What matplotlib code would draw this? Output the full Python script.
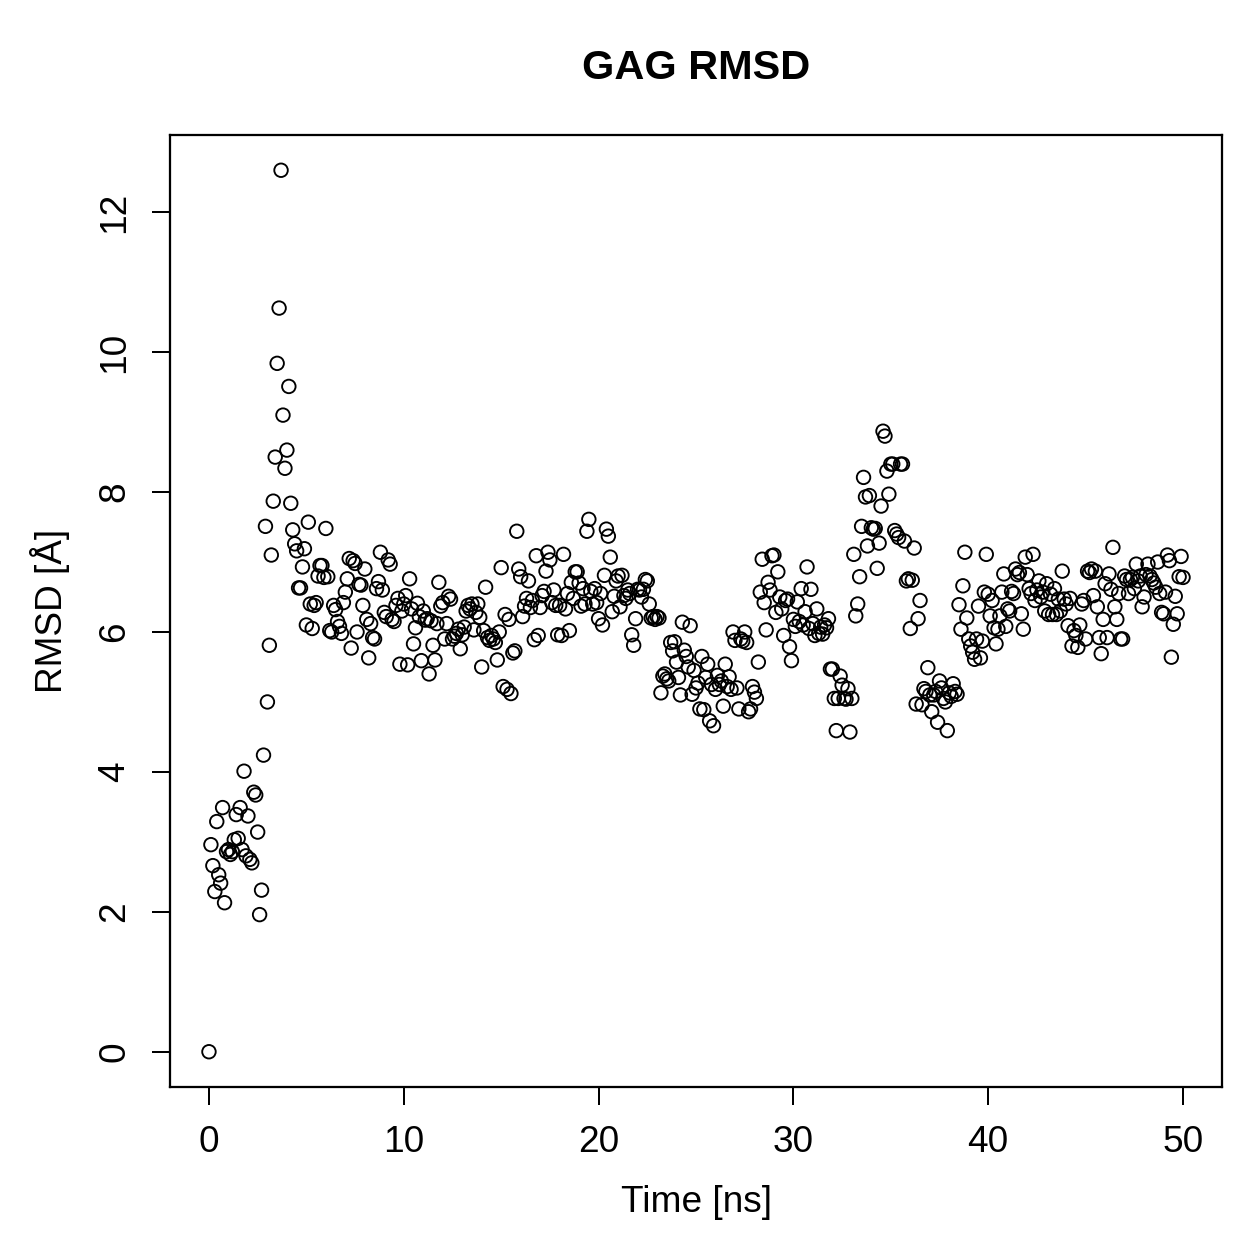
import numpy as np
import matplotlib
matplotlib.use("Agg")
import matplotlib.pyplot as plt

# RMSD values, one per 0.1 ns, in 5 ns blocks
rmsd_00_05 = [0.00, 2.96, 2.66, 2.29, 3.29, 2.53, 2.41, 3.49, 2.13, 2.86,
              2.89, 2.82, 2.86, 3.03, 3.39, 3.05, 3.49, 2.89, 4.01, 2.80,
              3.37, 2.75, 2.70, 3.71, 3.67, 3.14, 1.96, 2.31, 4.24, 7.51,
              5.00, 5.81, 7.10, 7.87, 8.50, 9.84, 10.63, 12.60, 9.10, 8.34,
              8.60, 9.51, 7.84, 7.46, 7.26, 7.16, 6.63, 6.63, 6.93, 7.19]
rmsd_05_10 = [6.10, 7.57, 6.40, 6.05, 6.38, 6.42, 6.80, 6.95, 6.95, 6.78,
              7.48, 6.79, 6.02, 6.00, 6.38, 6.32, 6.15, 6.08, 5.98, 6.42,
              6.57, 6.76, 7.05, 5.77, 7.02, 6.98, 6.00, 6.68, 6.67, 6.38,
              6.90, 6.18, 5.63, 6.12, 5.92, 5.90, 6.62, 6.72, 7.14, 6.60,
              6.28, 6.22, 7.03, 6.97, 6.18, 6.15, 6.38, 6.48, 5.54, 6.30]
rmsd_10_15 = [6.40, 6.52, 5.53, 6.76, 6.33, 5.83, 6.06, 6.41, 6.22, 5.59,
              6.30, 6.17, 6.19, 5.40, 6.16, 5.81, 5.60, 6.12, 6.71, 6.37,
              6.42, 5.90, 6.12, 6.51, 6.47, 5.90, 5.94, 5.98, 6.04, 5.76,
              5.96, 6.07, 6.30, 6.38, 6.33, 6.40, 6.03, 6.28, 6.40, 6.21,
              5.50, 6.02, 6.64, 5.92, 5.88, 5.95, 5.90, 5.85, 5.60, 6.00]
rmsd_15_20 = [6.92, 5.22, 6.25, 5.18, 6.18, 5.12, 5.70, 5.73, 7.44, 6.90,
              6.79, 6.22, 6.37, 6.48, 6.73, 6.35, 6.45, 5.89, 7.09, 5.95,
              6.35, 6.52, 6.58, 6.87, 7.14, 7.03, 6.42, 6.60, 6.38, 5.96,
              6.38, 5.95, 7.11, 6.33, 6.55, 6.02, 6.71, 6.48, 6.86, 6.86,
              6.70, 6.37, 6.62, 6.40, 7.44, 7.61, 6.58, 6.40, 6.62, 6.42]
rmsd_20_25 = [6.19, 6.55, 6.10, 6.81, 7.47, 7.37, 7.07, 6.29, 6.51, 6.73,
              6.80, 6.36, 6.81, 6.52, 6.48, 6.60, 6.55, 5.96, 5.81, 6.19,
              6.61, 6.60, 6.50, 6.61, 6.75, 6.73, 6.40, 6.20, 6.22, 6.18,
              6.22, 6.20, 5.13, 5.37, 5.40, 5.33, 5.30, 5.85, 5.73, 5.86,
              5.57, 5.35, 5.10, 6.14, 5.74, 5.65, 5.50, 6.09, 5.11, 5.45]
rmsd_25_30 = [5.20, 5.27, 4.90, 5.65, 4.89, 5.35, 5.54, 4.73, 5.25, 4.66,
              5.18, 5.38, 5.25, 5.30, 4.94, 5.54, 5.22, 5.36, 5.18, 6.00,
              5.88, 5.20, 4.90, 5.90, 5.87, 6.00, 5.85, 4.86, 4.90, 5.22,
              5.14, 5.05, 5.57, 6.57, 7.04, 6.42, 6.03, 6.71, 6.60, 7.09,
              7.10, 6.28, 6.86, 6.50, 6.33, 5.95, 6.45, 6.47, 5.79, 5.59]
rmsd_30_35 = [6.18, 6.08, 6.43, 6.15, 6.62, 6.10, 6.29, 6.93, 6.05, 6.61,
              6.12, 5.95, 6.33, 5.98, 6.07, 5.97, 6.10, 6.06, 6.19, 5.47,
              5.47, 5.05, 4.59, 5.05, 5.37, 5.24, 5.05, 5.04, 5.19, 4.57,
              5.05, 7.11, 6.23, 6.40, 6.79, 7.51, 8.21, 7.93, 7.23, 7.95,
              7.49, 7.47, 7.48, 6.91, 7.27, 7.80, 8.87, 8.80, 8.30, 7.97]
rmsd_35_40 = [8.40, 8.40, 7.45, 7.40, 7.35, 8.40, 8.40, 7.30, 6.73, 6.76,
              6.05, 6.74, 7.20, 4.97, 6.19, 6.45, 4.96, 5.19, 5.15, 5.49,
              5.10, 4.86, 5.10, 5.15, 4.71, 5.30, 5.20, 5.05, 5.00, 4.59,
              5.13, 5.08, 5.26, 5.15, 5.11, 6.39, 6.04, 6.66, 7.14, 6.20,
              5.90, 5.80, 5.71, 5.61, 5.90, 6.37, 5.63, 5.87, 6.57, 7.11]
rmsd_40_45 = [6.54, 6.23, 6.45, 6.06, 5.83, 6.04, 6.23, 6.57, 6.83, 6.08,
              6.33, 6.30, 6.58, 6.55, 6.90, 6.82, 6.85, 6.26, 6.04, 7.07,
              6.82, 6.62, 6.55, 7.11, 6.45, 6.60, 6.73, 6.50, 6.57, 6.30,
              6.69, 6.25, 6.54, 6.25, 6.62, 6.25, 6.47, 6.30, 6.87, 6.47,
              6.40, 6.09, 6.48, 5.80, 6.02, 5.95, 5.78, 6.10, 6.40, 6.45]
rmsd_45_50 = [5.90, 6.87, 6.85, 6.90, 6.52, 6.87, 6.36, 5.92, 5.69, 6.18,
              6.69, 5.92, 6.83, 6.61, 7.21, 6.36, 6.18, 6.55, 5.90, 5.90,
              6.80, 6.75, 6.55, 6.75, 6.78, 6.62, 6.97, 6.73, 6.80, 6.36,
              6.50, 6.82, 6.97, 6.80, 6.75, 6.70, 6.64, 7.00, 6.55, 6.28,
              6.26, 6.57, 7.10, 7.02, 5.64, 6.11, 6.51, 6.26, 6.79, 7.08,
              6.78]

blocks = [rmsd_00_05, rmsd_05_10, rmsd_10_15, rmsd_15_20, rmsd_20_25,
          rmsd_25_30, rmsd_30_35, rmsd_35_40, rmsd_40_45, rmsd_45_50]
block_start = [0, 5, 10, 15, 20, 25, 30, 35, 40, 45]
step = 0.1

time = []
rmsd = []
for start, vals in zip(block_start, blocks):
    for i, v in enumerate(vals):
        time.append(start + i * step)
        rmsd.append(v)

x_ticks = [0, 10, 20, 30, 40, 50]
y_ticks = [0, 2, 4, 6, 8, 10, 12]

plt.rcParams['font.family'] = ['Liberation Sans', 'DejaVu Sans']

W = 1259
fig = plt.figure(figsize=(W / 180, W / 180), dpi=180)
ax = fig.add_axes([170 / W, 1 - 1087 / W, (1222 - 170) / W, (1087 - 135) / W])

ax.scatter(time, rmsd, s=5.4 ** 2, facecolors='none', edgecolors='black',
           linewidths=0.75)

xmin, xmax = min(time), max(time)
ymin, ymax = min(rmsd), max(rmsd)
dx = (xmax - xmin) * 0.04
dy = (ymax - ymin) * 0.04
ax.set_xlim(xmin - dx, xmax + dx)
ax.set_ylim(ymin - dy, ymax + dy)

ax.set_xticks(x_ticks)
ax.set_yticks(y_ticks)
ax.set_xticklabels([str(t) for t in x_ticks])
ax.set_yticklabels([str(t) for t in y_ticks], rotation=90, va='center')
ax.tick_params(direction='out', length=7.2, width=0.8, labelsize=14.8,
               pad=8)
for s in ax.spines.values():
    s.set_linewidth(0.9)

fig.text(696 / W, 1 - 68 / W, 'GAG RMSD', ha='center', va='center',
         fontsize=16.6, fontweight='bold')
fig.text(696 / W, 1 - 1203 / W, 'Time [ns]', ha='center', va='center',
         fontsize=14.8)
fig.text(50 / W, 1 - 611 / W, 'RMSD [Å]', ha='center', va='center',
         fontsize=14.8, rotation=90)

fig.savefig('out.png', dpi=180)
